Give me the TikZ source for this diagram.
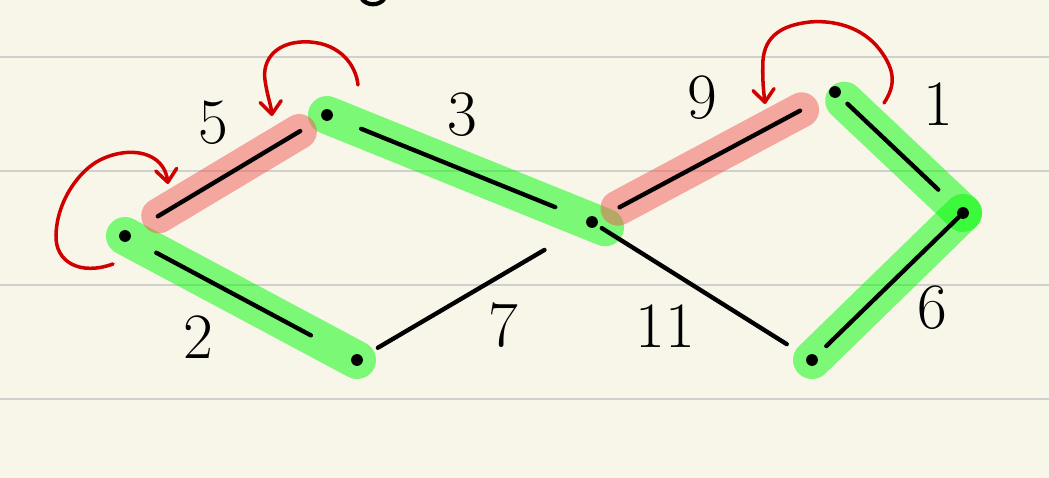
\documentclass[tikz,border=0pt]{standalone}
\usepackage{fontspec}
\usepackage{tikz}
\usetikzlibrary{arrows.meta}
\definecolor{paper}{RGB}{248,246,233}
\definecolor{ruling}{RGB}{208,208,206}
\definecolor{hlgreen}{RGB}{0,250,4}
\definecolor{hlred}{RGB}{242,90,84}
\definecolor{pen}{RGB}{208,0,0}

\begin{document}
\begin{tikzpicture}[x=0.025cm,y=-0.025cm,line cap=round,
        >={Straight Barb[length=9pt,width=15pt,round]},
        every node/.style={inner sep=0pt}]
        \tikzstyle{dot}=[circle,minimum size=8pt]
        \tikzstyle{ink}=[draw=black,line width=3.1pt]
        \tikzstyle{good}=[draw=hlgreen,opacity=.5,line width=27pt]
        \tikzstyle{bad}=[draw=hlred,opacity=.5,line width=25pt]
        \tikzstyle{undo}=[draw=pen,line width=2.5pt,->]
        \tikzstyle{weight}=[font=\fontsize{46}{52}\selectfont]
        \useasboundingbox (0,0) rectangle (1049,478);
        \fill[paper] (0,0) rectangle (1049,478);
        \foreach \y in {57,171,285,399}
          \draw[ruling,line width=1.8pt] (0,\y) -- (1049,\y);
        \draw[black,line width=3pt] (362,-1) .. controls (367,6) and (379,6) .. (384,-1);

        \node[dot](A) at (125,236){};
        \node[dot](B) at (327,115){};
        \node[dot](C) at (357,360){};
        \node[dot](D) at (592,222){};
        \node[dot](E) at (835,92){};
        \node[dot](F) at (963,213){};
        \node[dot](G) at (812,360){};

        % highlighted edges
        \draw[good] (A.center) -- (C.center);
        \draw[good,shorten >=-10pt] (B.center) -- (D.center);
        \draw[good,shorten <=9pt] (E.center) -- (F.center);
        \draw[good] (F.center) -- (G.center);
        \draw[bad,shorten <=28pt,shorten >=23pt] (A.center) -- (B.center);
        \draw[bad,shorten <=21pt,shorten >=27pt] (D.center) -- (E.center);

        % edges
        \draw[ink,shorten <=21pt,shorten >=33pt] (A) -- (C);
        \draw[ink,shorten <=23pt,shorten >=18pt] (A) -- (B);
        \draw[ink,shorten <=22pt,shorten >=24pt] (B) -- (D);
        \draw[ink,shorten <=13pt,shorten >=35pt] (C) -- (D);
        \draw[ink,shorten <=4pt,shorten >=17pt] (D) -- (G);
        \draw[ink,shorten <=18pt,shorten >=24pt] (D) -- (E);
        \draw[ink,shorten <=8pt,shorten >=20pt] (E) -- (F);
        \draw[ink,shorten >=10pt] (F) -- (G);
        \foreach \n in {A,B,C,D,E,F,G}
          \fill[black] (\n) circle (4.2pt);

        \node[weight](w5) at (213,123){5};
        \node[weight](w3) at (462,115){3};
        \node[weight](w9) at (702,98){9};
        \node[weight](w1) at (938,104){1};
        \node[weight](w2) at (198,337){2};
        \node[weight](w7) at (503,325){7};
        \node[weight](w11) at (665,326){11};
        \node[weight](w6) at (932,308){6};

        % swaps
        \coordinate (s1) at (113,264);
        \coordinate (t1) at (168,184);
        \coordinate (s2) at (358,85);
        \coordinate (t2) at (272,116);
        \coordinate (s3) at (884,103);
        \coordinate (t3) at (765,104);
        \draw[undo] (s1) .. controls (80,276) and (55,262) .. (56,235)
          .. controls (57,200) and (80,170) .. (100,160)
          .. controls (130,145) and (164,152) .. (t1);
        \draw[undo] (s2) .. controls (356,65) and (340,44) .. (310,42)
          .. controls (276,40) and (262,60) .. (265,80)
          .. controls (267,95) and (271,105) .. (t2);
        \draw[undo] (s3) .. controls (896,85) and (895,70) .. (880,50)
          .. controls (862,26) and (832,20) .. (810,22)
          .. controls (782,25) and (765,36) .. (763,60)
          .. controls (762,80) and (764,94) .. (t3);
      \end{tikzpicture}
\end{document}
